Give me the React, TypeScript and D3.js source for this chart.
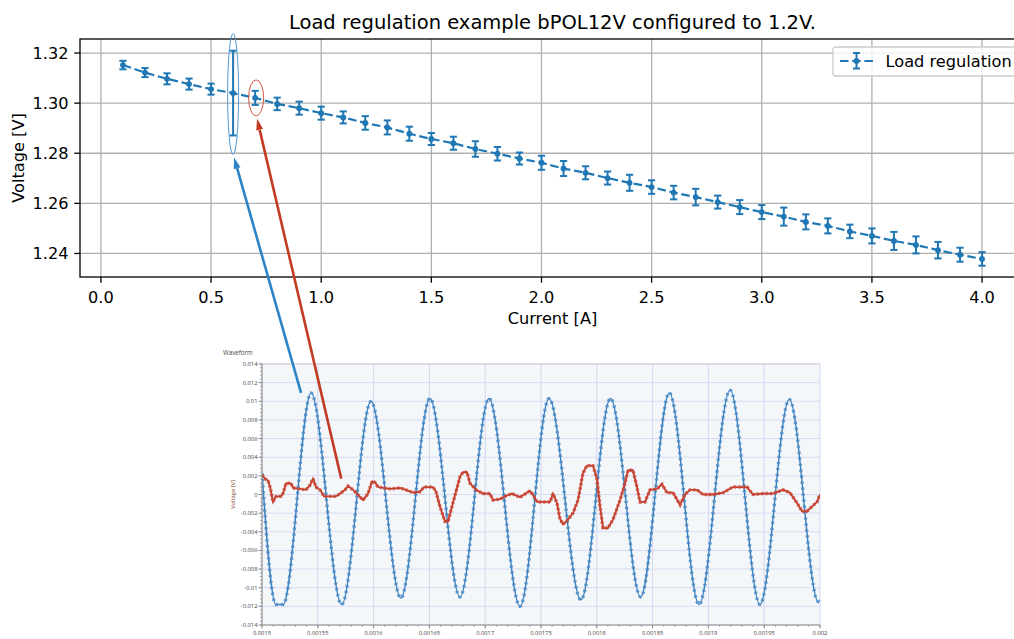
import React from 'react';
import * as d3 from 'd3';

// ---------------- Main chart data ----------------
const currents = [0.1, 0.2, 0.3, 0.4, 0.5, 0.6, 0.7, 0.8, 0.9, 1.0, 1.1, 1.2, 1.3, 1.4, 1.5, 1.6, 1.7, 1.8, 1.9, 2.0,
  2.1, 2.2, 2.3, 2.4, 2.5, 2.6, 2.7, 2.8, 2.9, 3.0, 3.1, 3.2, 3.3, 3.4, 3.5, 3.6, 3.7, 3.8, 3.9, 4.0];
const voltages = [1.3152, 1.3122, 1.3097, 1.3076, 1.3056, 1.3040, 1.3021, 1.2997, 1.2980, 1.2960,
  1.2943, 1.2921, 1.2903, 1.2878, 1.2857, 1.2840, 1.2817, 1.2798, 1.2779, 1.2762,
  1.2739, 1.2722, 1.2701, 1.2682, 1.2665, 1.2643, 1.2625, 1.2605, 1.2585, 1.2565,
  1.2547, 1.2526, 1.2510, 1.2488, 1.2470, 1.2450, 1.2434, 1.2413, 1.2395, 1.2378];
const errors = [0.0017, 0.0018, 0.0022, 0.0022, 0.0022, 0.0169, 0.0028, 0.0025, 0.0026, 0.0026,
  0.0024, 0.0027, 0.0028, 0.0028, 0.0024, 0.0026, 0.0031, 0.0027, 0.0024, 0.0028,
  0.0030, 0.0026, 0.0026, 0.0032, 0.0027, 0.0027, 0.0033, 0.0026, 0.0028, 0.0028,
  0.0036, 0.0030, 0.0030, 0.0027, 0.0030, 0.0036, 0.0034, 0.0033, 0.0028, 0.0027];
const xTicks = [0, 0.5, 1.0, 1.5, 2.0, 2.5, 3.0, 3.5, 4.0];
const yTicks = [1.24, 1.26, 1.28, 1.30, 1.32];
const titleText = 'Load regulation example bPOL12V configured to 1.2V.';
const xLabel = 'Current [A]';
const yLabel = 'Voltage [V]';
const legendLabel = 'Load regulation';

// ---------------- Inset waveform data ----------------
const waveXTicks = [0.0015, 0.00155, 0.0016, 0.00165, 0.0017, 0.00175, 0.0018, 0.00185, 0.0019, 0.00195, 0.002];
const waveXTickLabels = ['0.0015', '0.00155', '0.0016', '0.00165', '0.0017', '0.00175', '0.0018', '0.00185', '0.0019', '0.00195', '0.002'];
const waveYTicks = [0.014, 0.012, 0.01, 0.008, 0.006, 0.004, 0.002, 0, -0.002, -0.004, -0.006, -0.008, -0.01, -0.012, -0.014];
const waveYTickLabels = ['0.014', '0.012', '0.01', '0.008', '0.006', '0.004', '0.002', '0', '-0.002', '-0.004', '-0.006', '-0.008', '-0.01', '-0.012', '-0.014'];

// blue trace: observed extremes (time [s], voltage [V])
const blueTimes = [0.0015, 0.0015125, 0.0015190, 0.0015440, 0.0015714, 0.0015977, 0.0016244, 0.0016505, 0.0016774,
  0.0017034, 0.0017312, 0.0017572, 0.0017858, 0.0018123, 0.0018393, 0.0018650, 0.0018916, 0.0019194,
  0.0019462, 0.0019725, 0.0019985, 0.002];
const blueVolts = [0.0023, -0.0118, -0.0118, 0.0109, -0.0118, 0.0100, -0.0111, 0.0103, -0.0110,
  0.0103, -0.0120, 0.0103, -0.0113, 0.0103, -0.0110, 0.0109, -0.0118, 0.0112,
  -0.0118, 0.0102, -0.0115, -0.0113];

// red trace: observed breakpoints (time [s], voltage [V])
const redTimes = [0.0015000, 0.0015027, 0.0015054, 0.0015072, 0.0015099, 0.0015125, 0.0015170, 0.0015188, 0.0015215,
  0.0015260, 0.0015278, 0.0015341, 0.0015394, 0.0015430, 0.0015457, 0.0015484, 0.0015520, 0.0015556, 0.0015663,
  0.0015699, 0.0015744, 0.0015771, 0.0015815, 0.0015851, 0.0015905, 0.0015950, 0.0015986, 0.0016013, 0.0016039,
  0.0016147, 0.0016237, 0.0016290, 0.0016353, 0.0016416, 0.0016452, 0.0016532, 0.0016559, 0.0016595, 0.0016640,
  0.0016667, 0.0016711, 0.0016747, 0.0016774, 0.0016801, 0.0016837, 0.0016864, 0.0016918, 0.0016980, 0.0017043,
  0.0017070, 0.0017133, 0.0017177, 0.0017240, 0.0017312, 0.0017401, 0.0017437, 0.0017464, 0.0017581, 0.0017608,
  0.0017643, 0.0017670, 0.0017697, 0.0017742, 0.0017787, 0.0017832, 0.0017876, 0.0017912, 0.0017966, 0.0018002,
  0.0018029, 0.0018056, 0.0018100, 0.0018145, 0.0018208, 0.0018253, 0.0018280, 0.0018324, 0.0018360, 0.0018387,
  0.0018432, 0.0018477, 0.0018539, 0.0018584, 0.0018629, 0.0018683, 0.0018746, 0.0018790, 0.0018835, 0.0018898,
  0.0018952, 0.0019041, 0.0019131, 0.0019220, 0.0019346, 0.0019400, 0.0019489, 0.0019579, 0.0019668, 0.0019731,
  0.0019794, 0.0019839, 0.0019883, 0.0019937, 0.0019973, 0.0020000];
const redVolts = [0.0021, 0.0017, 0.0015, 0.0008, -0.0008, -0.0002, -0.0002, 0.0001, 0.0012,
  0.0012, 0.0007, 0.0006, 0.0005, 0.0010, 0.0017, 0.0008, 0.0005, -0.0002, -0.0002,
  0.0001, 0.0005, 0.0009, 0.0005, 0.0001, -0.0006, 0.0001, 0.0014, 0.0013, 0.0008,
  0.0006, 0.0007, 0.0005, 0.0002, 0.0003, 0.0008, 0.0008, 0.0003, -0.0013, -0.0029,
  -0.0029, -0.0009, 0.0007, 0.0019, 0.0024, 0.0024, 0.0012, 0.0005, 0.0001, 0.0001,
  -0.0006, -0.0005, -0.0002, 0.0001, -0.0003, 0.0004, -0.0002, -0.0008, -0.0008, 0.0001,
  -0.0009, -0.0026, -0.0032, -0.0027, -0.0020, -0.0006, 0.0023, 0.0031, 0.0031, 0.0016,
  -0.0013, -0.0036, -0.0036, -0.0027, -0.0006, 0.0012, 0.0026, 0.0026, 0.0008, -0.0008,
  -0.0008, 0.0005, 0.0006, 0.0011, 0.0002, 0.0002, -0.0011, 0.0000, 0.0005, 0.0005,
  0.0000, 0.0000, 0.0002, 0.0008, 0.0008, 0.0000, 0.0001, 0.0001, 0.0005, 0.0002,
  -0.0009, -0.0018, -0.0018, -0.0012, -0.0008, 0.0000];
const insetTitle = 'Waveform';
const insetYLabel = 'Voltage [V]';

const W = 1014;
const H = 639;
const MPL_FONT = 'DejaVu Sans, sans-serif';
const INSET_FONT = '"Open Sans", "Noto Sans", sans-serif';
const C0 = '#1f77b4';
const FS = 16.2;

function arrowHead(x1: number, y1: number, x2: number, y2: number, len: number, wid: number) {
  const dx = x2 - x1, dy = y2 - y1;
  const d = Math.hypot(dx, dy);
  const ux = dx / d, uy = dy / d;
  const bx = x2 - ux * len, by = y2 - uy * len;
  const px = -uy * wid / 2, py = ux * wid / 2;
  return { base: [bx, by], pts: `${x2},${y2} ${bx + px},${by + py} ${bx - px},${by - py}` };
}

export default function App() {
  // main scales
  const x = d3.scaleLinear().domain([-0.095, 4.195]).range([80, 1025]);
  const y = d3.scaleLinear().domain([1.2306, 1.3256]).range([277, 39]);
  const left = 80, right = 1025, top = 39, bottom = 277;

  const pts = currents.map((c, i) => [c, voltages[i], errors[i]] as [number, number, number]);
  const line = d3.line<[number, number, number]>().x(d => x(d[0])).y(d => y(d[1]));

  // inset scales
  const ix = d3.scaleLinear().domain([0.0015, 0.002]).range([262, 820]);
  const iy = d3.scaleLinear().domain([-0.014, 0.014]).range([625, 364]);
  const iLeft = 262, iRight = 820, iTop = 364, iBottom = 625;

  const blueData = blueTimes.map((t, i) => [t, blueVolts[i]] as [number, number]);
  const redData = redTimes.map((t, i) => [t, redVolts[i]] as [number, number]);
  const blueLine = d3.line<[number, number]>().x(d => ix(d[0])).y(d => iy(d[1])).curve(d3.curveMonotoneX);
  const redLine = d3.line<[number, number]>().x(d => ix(d[0])).y(d => iy(d[1]));

  const xMinor = d3.range(0.0015, 0.002 + 1e-9, 0.00001);
  const yMinor = d3.range(-0.014, 0.014 + 1e-9, 0.0004);

  // annotation geometry
  const bcx = x(0.6), bcy = y(1.3040) + 1, brx = 5.5, bry = 60.5;
  const rcx = x(0.7) + 1, rcy = y(1.3021), rrx = 7.5, rry = 18;
  const bStart = [ix(0.001535), iy(0.0109)];
  const bTip = [bcx + 1, bcy + bry + 3];
  const rStart = [ix(0.001571), iy(0.0017)];
  const rTip = [rcx + 1, rcy + rry + 3];
  const bHead = arrowHead(bStart[0], bStart[1], bTip[0], bTip[1], 11, 7);
  const rHead = arrowHead(rStart[0], rStart[1], rTip[0], rTip[1], 11, 7);

  const blueArrow = '#2c83c6';
  const redArrow = '#c23b22';

  return (
    <svg width={W} height={H} style={{ position: 'absolute', left: 0, top: 0, background: '#fff' }}>
      <rect x={0} y={0} width={W} height={H} fill="#fff" />
      {/* ---------- main chart ---------- */}
      <g>
        {xTicks.map(t => (
          <line key={'gx' + t} x1={x(t)} x2={x(t)} y1={top} y2={bottom} stroke="#b0b0b0" strokeWidth={1.3} />
        ))}
        {yTicks.map(t => (
          <line key={'gy' + t} x1={left} x2={right} y1={y(t)} y2={y(t)} stroke="#b0b0b0" strokeWidth={1.3} />
        ))}
        <path d={line(pts) || ''} fill="none" stroke={C0} strokeWidth={2.2} strokeDasharray="8.5 3.7" />
        {pts.map((d, i) => (
          <g key={'e' + i} stroke={C0} strokeWidth={2}>
            <line x1={x(d[0])} x2={x(d[0])} y1={y(d[1] - d[2])} y2={y(d[1] + d[2])} />
            <line x1={x(d[0]) - 3.6} x2={x(d[0]) + 3.6} y1={y(d[1] - d[2])} y2={y(d[1] - d[2])} />
            <line x1={x(d[0]) - 3.6} x2={x(d[0]) + 3.6} y1={y(d[1] + d[2])} y2={y(d[1] + d[2])} />
          </g>
        ))}
        {pts.map((d, i) => (
          <circle key={'m' + i} cx={x(d[0])} cy={y(d[1])} r={2.9} fill={C0} />
        ))}
        <rect x={left} y={top} width={right - left} height={bottom - top} fill="none" stroke="#000" strokeWidth={1.3} />
        {xTicks.map(t => (
          <g key={'tx' + t}>
            <line x1={x(t)} x2={x(t)} y1={bottom} y2={bottom + 5.7} stroke="#000" strokeWidth={1.3} />
            <text x={x(t)} y={302.5} textAnchor="middle" fontFamily={MPL_FONT} fontSize={FS} fill="#000">{d3.format('.1f')(t)}</text>
          </g>
        ))}
        {yTicks.map(t => (
          <g key={'ty' + t}>
            <line x1={left - 5.7} x2={left} y1={y(t)} y2={y(t)} stroke="#000" strokeWidth={1.3} />
            <text x={68.5} y={y(t)} dy="0.36em" textAnchor="end" fontFamily={MPL_FONT} fontSize={FS} fill="#000">{d3.format('.2f')(t)}</text>
          </g>
        ))}
        <text x={(left + right) / 2} y={324} textAnchor="middle" fontFamily={MPL_FONT} fontSize={FS} fill="#000">{xLabel}</text>
        <text transform={`translate(24,${(top + bottom) / 2}) rotate(-90)`} textAnchor="middle" fontFamily={MPL_FONT} fontSize={FS} fill="#000">{yLabel}</text>
        <text x={(left + right) / 2} y={29} textAnchor="middle" fontFamily={MPL_FONT} fontSize={19.5} fill="#000">{titleText}</text>
        <g>
          <rect x={833} y={47} width={210} height={29} rx={3} fill="#fff" fillOpacity={0.8} stroke="#cccccc" strokeWidth={1.3} />
          <line x1={840} x2={873} y1={61} y2={61} stroke={C0} strokeWidth={2.2} strokeDasharray="8.5 3.7" />
          <line x1={856.5} x2={856.5} y1={53} y2={68.5} stroke={C0} strokeWidth={2} />
          <line x1={853} x2={860} y1={53} y2={53} stroke={C0} strokeWidth={2} />
          <line x1={853} x2={860} y1={68.5} y2={68.5} stroke={C0} strokeWidth={2} />
          <circle cx={856.5} cy={61} r={2.9} fill={C0} />
          <text x={885.5} y={66.5} fontFamily={MPL_FONT} fontSize={FS} fill="#000">{legendLabel}</text>
        </g>
      </g>

      {/* ---------- inset waveform ---------- */}
      <g>
        <defs>
          <clipPath id="insetClip">
            <rect x={iLeft} y={iTop} width={iRight - iLeft} height={iBottom - iTop} />
          </clipPath>
        </defs>
        <rect x={iLeft} y={iTop} width={iRight - iLeft} height={iBottom - iTop} fill="#f4f7fa" />
        {waveYTicks.map(t => (
          <line key={'igy' + t} x1={iLeft} x2={iRight} y1={iy(t)} y2={iy(t)} stroke="#d8dbf1" strokeWidth={1} />
        ))}
        {waveXTicks.map(t => (
          <line key={'igx' + t} x1={ix(t)} x2={ix(t)} y1={iTop} y2={iBottom} stroke="#d2d6f0" strokeWidth={1} />
        ))}
        <line x1={iLeft} x2={iRight} y1={iTop} y2={iTop} stroke="#d0d0d0" strokeWidth={1} />
        <g clipPath="url(#insetClip)">
          <path d={blueLine(blueData) || ''} fill="none" stroke="#3a7dbb" strokeWidth={1.4} />
          <path d={blueLine(blueData) || ''} fill="none" stroke="#4a8cc8" strokeWidth={3.3} strokeDasharray="2.4 3.6" strokeOpacity={0.85} />
          <path d={redLine(redData) || ''} fill="none" stroke="#c0392b" strokeWidth={1.8} />
          <path d={redLine(redData) || ''} fill="none" stroke="#cc4a36" strokeWidth={3.4} strokeDasharray="2.4 2.0" strokeOpacity={0.8} />
        </g>
        <line x1={iLeft} x2={iLeft} y1={iTop} y2={iBottom} stroke="#8a8a8a" strokeWidth={1} />
        <line x1={iLeft} x2={iRight} y1={iBottom} y2={iBottom} stroke="#8a8a8a" strokeWidth={1} />
        {yMinor.map((t, i) => (
          <line key={'iym' + i} x1={iLeft - 1.8} x2={iLeft} y1={iy(t)} y2={iy(t)} stroke="#8a8a8a" strokeWidth={0.8} />
        ))}
        {xMinor.map((t, i) => (
          <line key={'ixm' + i} x1={ix(t)} x2={ix(t)} y1={iBottom} y2={iBottom + 1.8} stroke="#8a8a8a" strokeWidth={0.8} />
        ))}
        {waveYTicks.map((t, i) => (
          <g key={'iyt' + t}>
            <line x1={iLeft - 3.5} x2={iLeft} y1={iy(t)} y2={iy(t)} stroke="#8a8a8a" strokeWidth={1} />
            <text x={257.5} y={iy(t)} dy="0.35em" textAnchor="end" fontFamily={INSET_FONT} fontSize={5.8} fill="#444">{waveYTickLabels[i]}</text>
          </g>
        ))}
        {waveXTicks.map((t, i) => (
          <g key={'ixt' + t}>
            <line x1={ix(t)} x2={ix(t)} y1={iBottom} y2={iBottom + 3.5} stroke="#8a8a8a" strokeWidth={1} />
            <text x={ix(t)} y={634.5} textAnchor="middle" fontFamily={INSET_FONT} fontSize={5.8} fill="#444">{waveXTickLabels[i]}</text>
          </g>
        ))}
        <text x={223} y={354.5} fontFamily={INSET_FONT} fontSize={6.2} fill="#444">{insetTitle}</text>
        <text transform={`translate(235,${(iTop + iBottom) / 2}) rotate(-90)`} textAnchor="middle" fontFamily={INSET_FONT} fontSize={5.8} fill="#8a4a30">{insetYLabel}</text>
      </g>

      {/* ---------- annotations ---------- */}
      <ellipse cx={bcx} cy={bcy} rx={brx} ry={bry} fill="none" stroke="#4f9bd8" strokeWidth={1} />
      <ellipse cx={rcx} cy={rcy} rx={rrx} ry={rry} fill="none" stroke="#d3573c" strokeWidth={1} />
      <line x1={bStart[0]} y1={bStart[1]} x2={bHead.base[0]} y2={bHead.base[1]} stroke={blueArrow} strokeWidth={2.6} />
      <polygon points={bHead.pts} fill={blueArrow} />
      <line x1={rStart[0]} y1={rStart[1]} x2={rHead.base[0]} y2={rHead.base[1]} stroke={redArrow} strokeWidth={2.6} />
      <polygon points={rHead.pts} fill={redArrow} />
    </svg>
  );
}
